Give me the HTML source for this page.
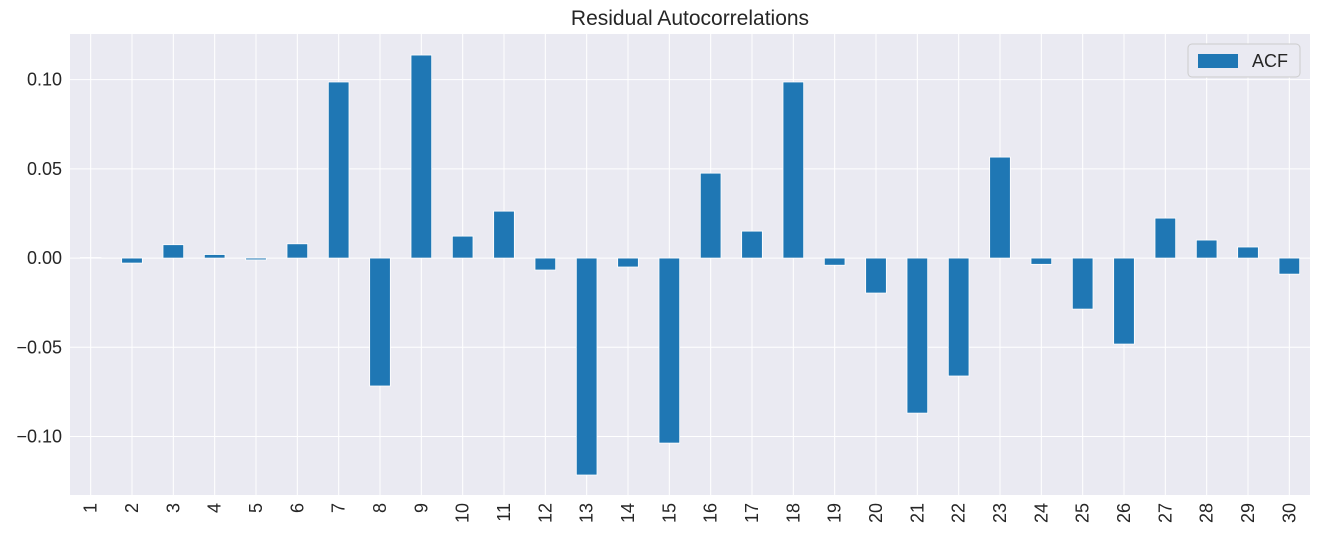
<!DOCTYPE html>
<html><head><meta charset="utf-8"><style>
body{margin:0;background:#fff;font-family:"Liberation Sans","DejaVu Sans",sans-serif;}
svg text{font-family:"Liberation Sans","DejaVu Sans",sans-serif;}
</style></head><body>
<svg id="chart" width="1318" height="537" xmlns="http://www.w3.org/2000/svg">
<rect x="70" y="34" width="1240" height="461" fill="#eaeaf2"/>
<g id="grid"></g><g id="bars"></g><g id="axes"></g>
<text x="690" y="25" font-size="21" text-anchor="middle" fill="#262626">Residual Autocorrelations</text>
<g>
<rect x="1188" y="44" width="112" height="33" rx="4" fill="#eaeaf2" stroke="#cccccc"/>
<rect x="1198" y="54" width="40" height="14" fill="#1f77b4"/>
<text x="1252" y="67" font-size="18" fill="#262626">ACF</text>
</g>
</svg>
<script>
const categories=[1,2,3,4,5,6,7,8,9,10,11,12,13,14,15,16,17,18,19,20,21,22,23,24,25,26,27,28,29,30];
const acfValues=[0.0003,-0.0028,0.0075,0.002,-0.001,0.008,0.0987,-0.0717,0.1138,0.0123,0.0263,-0.0067,-0.1216,-0.005,-0.1037,0.0476,0.0151,0.0987,-0.004,-0.0196,-0.0869,-0.0661,0.0566,-0.0035,-0.0286,-0.0482,0.0224,0.0101,0.0062,-0.009];
const yTicks=[-0.10,-0.05,0.00,0.05,0.10];
const yTickLabels=["\u22120.10","\u22120.05","0.00","0.05","0.10"];
const NS="http://www.w3.org/2000/svg";
const L=70,R=1310,T=34,B=495,yMax=0.1256,yMin=-0.1328;
const y=v=>T+(yMax-v)/(yMax-yMin)*(B-T);
const step=(R-L)/categories.length;
const x=i=>L+step*(i+0.5);
const grid=document.getElementById('grid'),bars=document.getElementById('bars'),axes=document.getElementById('axes');
function mk(tag,attrs,parent){const e=document.createElementNS(NS,tag);for(const k in attrs)e.setAttribute(k,attrs[k]);parent.appendChild(e);return e;}
yTicks.forEach((v,i)=>{
 const g=mk('line',{x1:L,x2:R,y1:y(v),y2:y(v),stroke:'#fff','stroke-width':1},grid);
 
 
 const t=mk('text',{x:L-8,y:y(v)+6,'font-size':18,'text-anchor':'end',fill:'#262626'},axes);
 t.textContent=yTickLabels[i];
 
 
});
categories.forEach((c,i)=>{
 const g=mk('line',{x1:x(i),x2:x(i),y1:T,y2:B,stroke:'#fff','stroke-width':1},grid);
 
 
 const v=acfValues[i],bw=step*0.5;
 const r=mk('rect',{x:x(i)-bw/2,y:Math.min(y(v),y(0)),width:bw,height:Math.max(Math.abs(y(v)-y(0)),0.5),fill:'#1f77b4',stroke:'#fff','stroke-width':0.8},bars);
 
 
 const t=mk('text',{x:0,y:0,'font-size':18,'text-anchor':'end',fill:'#262626',transform:`translate(${x(i)+6},${B+8}) rotate(-90)`},axes);
 t.textContent=c;
 
 
});
</script>
</body></html>
